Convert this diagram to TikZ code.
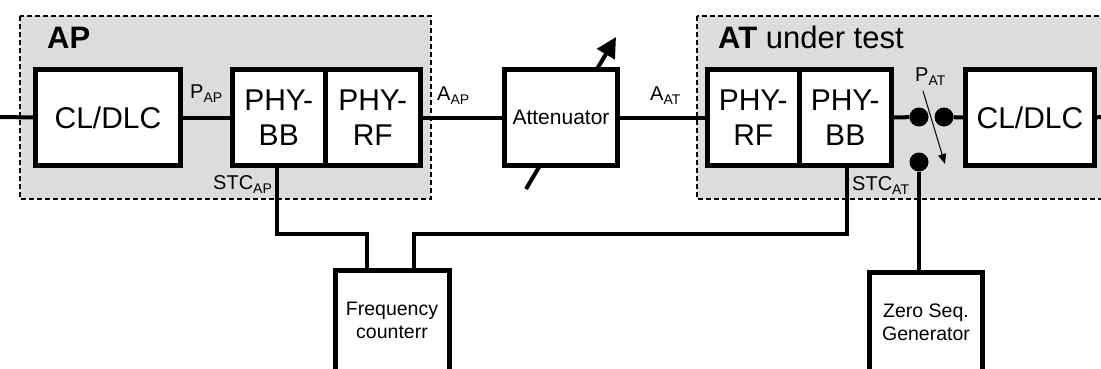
\documentclass[tikz,border=0pt]{standalone}
\usepackage{fontspec}
\setmainfont{Liberation Sans}
\usetikzlibrary{arrows.meta}
\newcommand{\lblsub}[3][20]{{\fontsize{#1}{#1}\selectfont #2}\raisebox{-4pt}{\fontsize{14}{14}\selectfont #3}}
\begin{document}
\begin{tikzpicture}[x=1pt,y=-1pt,
  blk/.style={draw,line width=5pt,fill=white,inner sep=0pt,outer sep=0pt,align=center,font=\fontsize{30}{35}\selectfont},
  grp/.style={draw,line width=1.8pt,dash pattern=on 5pt off 3pt,fill=grpgray},
  wire/.style={line width=4pt},
  dot/.style={circle,fill=black,inner sep=0pt,minimum size=19pt},
  lbl/.style={inner sep=0pt,anchor=base west},
  small/.style={inner sep=0pt,align=center,font=\fontsize{19.5}{23}\selectfont},
  ttl/.style={inner sep=0pt,anchor=base west,font=\fontsize{31}{31}\selectfont}
]
\definecolor{grpgray}{RGB}{220,220,220}
\clip (0,0) rectangle (1101,368);
\useasboundingbox (0,0) rectangle (1101,368);

% groups
\path[grp] (20,16) rectangle (431,199);
\path[grp] (697,16) rectangle (1115,199);
\node[ttl] (tap) at (47,48) {\bfseries AP};
\node[ttl] (tat) at (718,48) {\bfseries AT\mdseries{} under test};

% attenuator arrow (behind box)
\coordinate (atail) at (526,189);
\coordinate (ahead) at (616,37);
\draw[line width=4pt,-{Triangle[length=20pt,width=20pt]}] (atail) -- (ahead);

% blocks
\node[blk,minimum width=145,minimum height=96] (clap) at (108,117.5) {CL/DLC};
\node[blk,minimum width=92.5,minimum height=96] (bbap) at (278.75,117.5) {PHY-\\BB};
\node[blk,minimum width=95.5,minimum height=96] (rfap) at (372.75,117.5) {PHY-\\RF};
\node[blk,minimum width=113,minimum height=96,font=\fontsize{21}{24}\selectfont] (att) at (561,117.5) {Attenuator};
\node[blk,minimum width=91.5,minimum height=96] (rfat) at (753.25,117.5) {PHY-\\RF};
\node[blk,minimum width=92.5,minimum height=96] (bbat) at (845.25,117.5) {PHY-\\BB};
\node[blk,minimum width=129,minimum height=96] (clat) at (1030,117.5) {CL/DLC};
\node[blk,minimum width=114,minimum height=120] (freq) at (392.5,330.5) {};
\node[small] (freqtxt) at (392,320) {Frequency\\counterr};
\node[blk,minimum width=113,minimum height=120] (zero) at (926,332.5) {};
\node[small] (zerotxt) at (926,322) {Zero Seq.\\Generator};

% switch dots
\node[dot] (d1) at (919,117) {};
\node[dot] (d2) at (944,117) {};
\node[dot] (d3) at (919,162) {};

% wires
\coordinate (lin) at (0,117);
\coordinate (rout) at (1101,117);
\draw[wire] (lin) -- (clap.west);
\draw[wire] (clap.east) -- (bbap.west |- clap.east);
\draw[wire] (rfap.east) -- (att.west);
\draw[wire] (att.east) -- (rfat.west);
\draw[wire] (bbat.east) -- (d1);
\draw[wire] (d2) -- (clat.west);
\draw[wire] (clat.east) -- (rout);
\draw[wire] (d3) -- (d3 |- zero.north);

\coordinate (sap) at (277,165.5);
\coordinate (fl) at (367,270.5);
\coordinate (fr) at (414,270.5);
\coordinate (sat) at (847,165.5);
\draw[wire] (sap) |- (fl |- 0,234) -- (fl);
\draw[wire] (fr) |- (sat |- 0,234) -- (sat);

% switch arrow
\coordinate (sw1) at (923,91);
\coordinate (sw2) at (945,164);
\draw[line width=1pt,-{Triangle[length=10pt,width=8pt]}] (sw1) -- (sw2);

% labels
\node[lbl] (pap) at (190,98) {\lblsub{P}{AP}};
\node[lbl] (aap) at (437,100) {\lblsub{A}{AP}};
\node[lbl] (aat) at (650,100) {\lblsub{A}{AT}};
\node[lbl] (pat) at (915,81) {\lblsub{P}{AT}};
\node[lbl] (stcap) at (213,189) {\lblsub{STC}{AP}};
\node[lbl] (stcat) at (852,190) {\lblsub{STC}{AT}};
\end{tikzpicture}
\end{document}
